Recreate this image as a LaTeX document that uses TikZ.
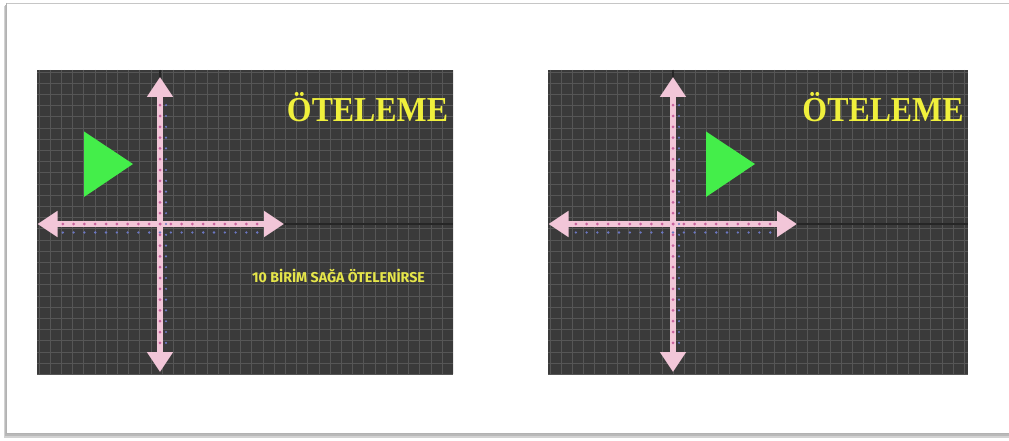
\documentclass[tikz,border=0pt]{standalone}
\usepackage{fontspec}
\newfontfamily\titlefont{Liberation Serif}
\newfontfamily\subfont{Fira Sans}
\usetikzlibrary{arrows.meta}
\definecolor{bgdark}{HTML}{3A3A3A}
\definecolor{gridc}{HTML}{565656}
\definecolor{axispink}{HTML}{F2C6D8}
\definecolor{dotpink}{HTML}{C8629E}
\definecolor{tickblue}{HTML}{6C78C4}
\definecolor{triggreen}{HTML}{44EE4A}
\definecolor{titleyel}{HTML}{F0F03C}
\definecolor{subyel}{HTML}{E6E64A}
\tikzset{
  axisline/.style={draw=axispink, line width=6.5pt,
    {Triangle[width=25pt,length=20pt]}-{Triangle[width=25pt,length=20pt]}},
  gridline/.style={draw=gridc, line width=0.8pt},
  titletext/.style={text=titleyel, font=\titlefont\bfseries\fontsize{35}{40}\selectfont, inner sep=0pt},
  subtext/.style={text=subyel, font=\subfont\bfseries\fontsize{14.2}{16}\selectfont, inner sep=0pt},
  tri/.style={fill=triggreen, draw=none},
  pdot/.style={fill=dotpink},
  bdot/.style={fill=tickblue},
}
\begin{document}
\begin{tikzpicture}[x=1pt,y=-1pt]
\useasboundingbox (0,0) rectangle (1009,441);
\fill[white] (0,0) rectangle (1009,441);
% frame with shadow
\fill[gray!35] (4,6) rectangle (1012,438);
\fill[gray!55] (5,5) rectangle (1012,435.5);
\fill[white] (6,3) rectangle (1012,433);
\draw[gray!45, line width=0.8pt] (6,3) -- (1012,3);
\draw[gray!60, line width=0.8pt] (6,3) -- (6,433) -- (1012,433);

% ---------- panels ----------
\foreach \px/\pw/\ax/\tx in {37/416/160/84, 548/420/673/706}{
  \fill[bgdark] (\px,70) rectangle ({\px+\pw},374);
  \begin{scope}
    \clip (\px,70) rectangle ({\px+\pw},374);
    \foreach \i in {0,...,38}{
      \draw[gridline] ({\px+2+11.2*\i},70) -- ({\px+2+11.2*\i},374);
    }
    \foreach \j in {0,...,27}{
      \draw[gridline] (\px,{72+11.2*\j}) -- ({\px+\pw},{72+11.2*\j});
    }
  \end{scope}
  % black line continuing x-axis
  \draw[black!85, line width=1.4pt] ({\ax+120},224) -- ({\px+\pw},224);
  \draw[black!85, line width=1.2pt] (\ax,70) -- (\ax,80);
  % axes
  \coordinate (xl) at ({\px+0.5},224);
  \coordinate (xr) at ({\ax+124},224);
  \coordinate (yt) at (\ax,77);
  \coordinate (yb) at (\ax,372);
  \draw[axisline] (xl) -- (xr);
  \draw[axisline] (yt) -- (yb);
  % ticks
  \foreach \k in {-9,...,9}{
    \fill[pdot] ({\ax+10.8*\k},224) circle (1.5);
    \fill[bdot] ({\ax+10.8*\k},232.5) circle (1.3);
  }
  \foreach \k in {-11,...,11}{
    \fill[pdot] (\ax,{224+10.8*\k}) circle (1.5);
    \fill[bdot] ({\ax+6},{224+10.8*\k}) circle (1.2);
  }
  % triangle
  \fill[tri] (\tx,131.5) -- (\tx,197) -- ({\tx+49},164) -- cycle;
}
\node[titletext] (t1) at (367.5,107) {\scalebox{0.91}[1]{ÖTELEME}};
\node[titletext] (t2) at (883,107) {\scalebox{0.91}[1]{ÖTELEME}};
\node[subtext] (s1) at (338.5,275.5) {10 BİRİM SAĞA ÖTELENİRSE};
\end{tikzpicture}
\end{document}
